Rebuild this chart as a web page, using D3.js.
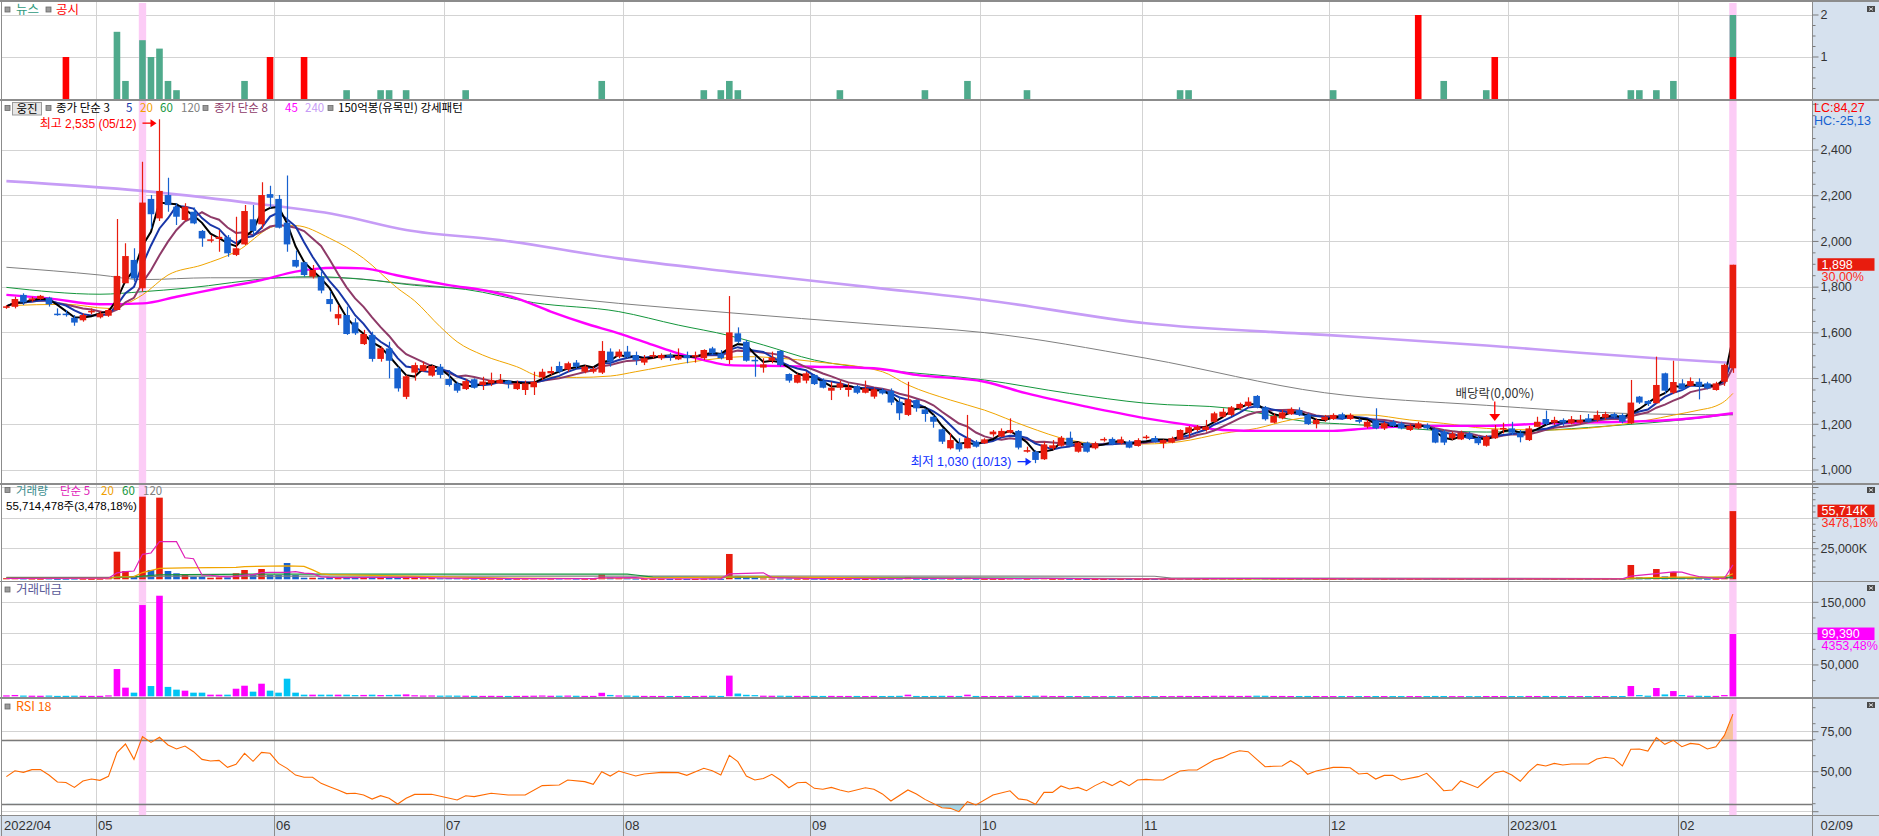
<!DOCTYPE html>
<html><head><meta charset="utf-8">
<script src="https://cdn.jsdelivr.net/npm/d3@7/dist/d3.min.js"></script>
<style>
html,body{margin:0;padding:0;background:#fff;overflow:hidden;}
svg{display:block;font-family:"Noto Sans CJK KR","Noto Sans",sans-serif;}
.num{font-family:"Liberation Sans","DejaVu Sans",sans-serif;}
</style></head><body>
<svg id="c" width="1879" height="836"></svg>
<script>
// ---------------- data ----------------
const firstLabel = "2022/04";
const monthStart = [11,32,52,73,95,115,134,156,177,197];
const monthLabel = ["05","06","07","08","09","10","11","12","2023/01","02"];
const lastDateLabel = "02/09";

const open = [1710,1714,1766,1742,1748,1754,1684,1684,1666,1655,1692,1668,1675,1700,1817,1919,1795,2186,2101,2203,
2152,2094,2130,2046,2005,2011,2018,1941,1987,2097,2075,2207,2186,2082,1919,1909,1846,1846,1748,1663,
1678,1646,1551,1591,1486,1532,1445,1320,1426,1433,1413,1452,1398,1379,1354,1397,1372,1379,1379,1391,
1354,1350,1362,1405,1423,1455,1440,1470,1430,1430,1426,1518,1496,1518,1503,1470,1496,1489,1503,1484,
1503,1496,1489,1532,1510,1481,1598,1561,1482,1448,1478,1521,1420,1382,1391,1416,1391,1347,1360,1350,
1367,1338,1321,1350,1347,1299,1241,1306,1265,1233,1178,1095,1117,1095,1124,1117,1156,1146,1163,1171,
1080,1080,1047,1095,1106,1141,1080,1120,1095,1131,1136,1117,1124,1105,1141,1140,1117,1120,1134,1163,
1175,1175,1211,1233,1241,1270,1280,1324,1274,1207,1226,1244,1262,1241,1201,1219,1223,1244,1223,1219,
1189,1216,1182,1211,1204,1175,1182,1197,1178,1168,1139,1134,1160,1141,1106,1139,1178,1182,1163,1131,
1189,1223,1207,1219,1204,1207,1226,1219,1229,1245,1241,1204,1321,1302,1292,1423,1338,1379,1368,1386,
1379,1350,1386,1445];
const high = [1722,1758,1773,1758,1766,1758,1707,1700,1678,1685,1707,1695,1707,2098,1992,1970,2349,2203,2535,2279,
2167,2167,2148,2050,2028,2050,2028,2108,2159,2159,2259,2244,2203,2288,1960,1911,1897,1868,1783,1722,
1715,1664,1613,1605,1540,1561,1452,1416,1470,1474,1459,1464,1437,1386,1397,1401,1408,1426,1420,1394,
1391,1391,1430,1443,1452,1474,1474,1481,1459,1452,1564,1532,1528,1543,1518,1503,1518,1510,1513,1532,
1518,1518,1528,1539,1525,1761,1624,1569,1496,1489,1518,1525,1423,1423,1430,1420,1401,1386,1391,1379,
1372,1391,1360,1358,1357,1321,1386,1309,1270,1241,1182,1160,1139,1241,1131,1139,1175,1182,1226,1175,
1102,1087,1124,1131,1149,1168,1124,1124,1124,1143,1143,1146,1131,1139,1153,1149,1134,1146,1178,1193,
1197,1219,1255,1270,1280,1295,1318,1328,1280,1248,1262,1274,1274,1248,1226,1241,1248,1251,1248,1226,
1219,1270,1211,1219,1211,1201,1211,1204,1182,1175,1168,1172,1168,1149,1153,1197,1207,1211,1175,1193,
1233,1260,1233,1226,1236,1241,1245,1260,1255,1251,1248,1394,1324,1306,1496,1426,1478,1397,1405,1401,
1386,1386,1465,1898];
const low = [1705,1707,1722,1736,1745,1715,1675,1671,1631,1649,1681,1663,1670,1700,1817,1824,1780,2057,2089,2130,
2072,2089,2075,1977,1995,1955,1933,1936,1984,2028,2057,2145,2057,1955,1885,1846,1838,1773,1693,1634,
1591,1591,1547,1474,1474,1401,1343,1310,1391,1430,1408,1401,1365,1338,1350,1356,1350,1367,1379,1357,
1350,1328,1328,1394,1416,1423,1430,1445,1423,1423,1420,1452,1489,1489,1459,1459,1489,1481,1478,1481,
1467,1470,1481,1503,1484,1464,1554,1474,1408,1426,1467,1452,1382,1379,1379,1372,1357,1306,1350,1321,
1332,1335,1312,1330,1284,1219,1236,1255,1211,1185,1114,1090,1080,1095,1098,1114,1146,1143,1160,1090,
1076,1030,1044,1087,1102,1102,1076,1076,1090,1124,1109,1112,1095,1102,1134,1120,1095,1117,1131,1139,
1168,1168,1207,1229,1236,1262,1274,1270,1216,1204,1222,1241,1236,1197,1182,1211,1219,1219,1219,1204,
1182,1178,1175,1187,1178,1171,1178,1175,1117,1109,1131,1131,1131,1109,1102,1136,1160,1153,1121,1127,
1189,1197,1197,1193,1200,1201,1207,1211,1219,1226,1204,1201,1289,1280,1292,1332,1332,1347,1365,1309,
1353,1347,1368,1425];
const close = [1716,1748,1733,1751,1762,1725,1680,1680,1645,1678,1696,1685,1700,1849,1936,1838,2170,2119,2221,2159,
2108,2152,2079,2013,2009,2020,1948,1970,2133,2046,2203,2191,2060,1987,1890,1853,1875,1785,1726,1682,
1595,1598,1595,1486,1532,1478,1357,1410,1459,1459,1455,1416,1372,1347,1389,1360,1387,1394,1394,1376,
1379,1379,1386,1430,1433,1430,1467,1452,1452,1442,1521,1474,1518,1493,1481,1489,1503,1503,1496,1499,
1489,1503,1525,1510,1489,1602,1561,1478,1479,1462,1492,1459,1391,1416,1423,1376,1360,1360,1379,1362,
1338,1357,1353,1335,1295,1248,1309,1270,1245,1211,1124,1131,1090,1139,1102,1134,1168,1171,1175,1098,
1087,1044,1112,1108,1141,1106,1120,1080,1117,1136,1112,1134,1098,1131,1146,1124,1131,1139,1175,1187,
1190,1190,1248,1255,1274,1289,1299,1274,1222,1236,1252,1267,1241,1201,1219,1233,1241,1226,1241,1211,
1211,1182,1204,1193,1182,1193,1204,1182,1120,1120,1160,1163,1139,1117,1146,1178,1184,1163,1143,1182,
1211,1201,1219,1207,1222,1219,1211,1241,1245,1233,1211,1295,1295,1289,1372,1347,1385,1353,1389,1365,
1357,1379,1460,1898];

// volume (thousand shares)
const volume = [900,1200,700,600,500,700,400,500,600,500,400,500,900,22550,6780,2700,67500,7600,66700,6780,
4900,4080,2100,2100,1300,1600,1600,4900,7600,3500,8400,3500,3500,13300,3500,1300,1300,1300,1800,1000,
1500,1200,1400,1800,1300,1500,1900,2300,1200,900,1000,800,900,800,700,600,500,600,500,400,
500,600,700,900,600,700,800,600,500,500,3800,1500,900,800,600,500,400,400,300,400,
300,300,500,600,400,20700,2800,1600,1300,700,600,700,600,500,500,500,400,500,400,400,
400,300,500,400,500,600,1500,500,400,500,700,600,500,1200,500,400,400,400,700,800,
500,900,800,400,500,400,400,300,300,300,300,300,300,300,300,300,400,300,600,500,
400,400,700,600,600,500,600,800,700,500,500,400,400,500,400,300,300,300,300,300,
300,400,300,300,300,300,300,300,500,400,300,300,300,300,400,400,300,300,300,500,
400,500,300,300,300,300,300,400,300,300,400,11700,1700,800,8400,2400,6000,1700,800,700,
500,500,1500,55714];
// trading value (million KRW)
const tradeValue = [1500,2100,1200,1000,900,1200,700,800,1000,800,700,800,1500,43500,13800,5800,145600,16400,160500,15000,
10600,9000,5800,5800,2600,2600,2600,12100,16900,7400,20100,9000,5800,28100,5800,2600,2600,2600,2600,2600,
2600,2000,2200,2600,2000,2200,2600,3100,1700,1300,1400,1100,1200,1100,1000,800,700,800,700,600,
700,800,1000,1300,900,1000,1200,900,700,700,5600,2200,1400,1200,900,700,600,600,500,600,
500,500,800,900,600,33000,4400,2400,1900,1000,900,1000,800,700,700,700,600,700,600,600,
600,400,700,500,600,800,2600,600,500,600,800,700,600,2600,600,500,500,500,800,900,
500,1000,900,400,600,400,400,300,300,300,300,300,300,300,300,300,500,300,700,600,
500,500,900,800,800,600,800,1000,900,600,600,500,500,600,500,400,400,400,400,400,
400,500,400,400,400,400,400,400,600,500,300,300,300,300,500,500,400,400,300,600,
500,600,400,400,400,400,400,500,400,400,500,16400,2000,1000,13200,3000,8400,2000,1000,900,
700,700,2000,99390];

// news (green) and disclosure (red) bars, [bar index, height in axis units]
const newsBars = [[13,1.6],[14,0.43],[16,1.4],[17,1.0],[18,1.2],[19,0.43],[20,0.21],[28,0.43],[40,0.21],[44,0.21],
[45,0.21],[47,0.21],[54,0.21],[70,0.43],[82,0.21],[84,0.21],[85,0.43],[86,0.21],[98,0.21],[108,0.21],[113,0.43],
[120,0.21],[138,0.21],[139,0.21],[156,0.21],[169,0.43],[174,0.21],[191,0.21],[192,0.21],[194,0.21],[196,0.43],[203,1.0]];
const disclosureBars = [[7,1],[31,1],[35,1],[166,2],[175,1],[203,1]];

// long moving averages: [bar index, price]
const ma20 = [[0,1719],[7,1725],[12,1707],[16,1766],[19,1853],[23,1897],[27,1955],[32,2069],[34,2069],[38,2014],[42,1926],
[46,1795],[48,1740],[51,1627],[53,1561],[56,1503],[60,1452],[63,1408],[67,1405],[71,1411],[74,1430],[80,1470],[84,1489],
[87,1496],[91,1489],[95,1474],[103,1430],[106,1372],[111,1306],[115,1262],[120,1190],[125,1131],[129,1114],[134,1114],
[138,1124],[143,1160],[147,1182],[151,1219],[155,1236],[160,1241],[165,1219],[169,1204],[174,1182],[181,1175],[186,1183],
[190,1200],[193,1218],[196,1240],[199,1262],[201,1280],[202,1300],[203,1335]];
const ma45 = [[0,1766],[5,1751],[11,1725],[16,1729],[20,1758],[25,1795],[30,1831],[34,1868],[36,1879],[39,1885],[42,1882],
[46,1851],[52,1809],[57,1780],[60,1751],[64,1693],[68,1642],[72,1598],[76,1547],[79,1510],[82,1481],[85,1459],[89,1456],
[95,1452],[102,1445],[107,1416],[115,1386],[120,1335],[127,1277],[134,1226],[139,1197],[143,1175],[148,1171],[156,1171],
[160,1182],[167,1193],[174,1193],[181,1204],[190,1211],[197,1222],[203,1248]];
const ma60 = [[0,1799],[11,1769],[16,1780],[21,1795],[32,1841],[36,1846],[42,1834],[48,1808],[54,1790],[62,1732],[72,1693],
[79,1634],[85,1588],[89,1547],[95,1481],[102,1443],[115,1394],[125,1335],[134,1292],[144,1270],[153,1211],[158,1200],
[174,1166],[190,1197],[197,1219],[203,1245]];
const ma120 = [[0,1887],[11,1853],[16,1833],[24,1841],[39,1841],[47,1815],[58,1780],[72,1729],[85,1688],[102,1638],
[115,1601],[134,1489],[155,1338],[174,1283],[190,1248],[203,1241]];
const ma240 = [[0,2264],[16,2221],[28,2171],[39,2116],[47,2050],[58,2006],[72,1926],[85,1868],[102,1798],[115,1744],
[134,1642],[155,1591],[174,1545],[185,1513],[194,1489],[203,1468]];

// volume moving averages: [bar index, thousand shares]
const volMa5 = [[0,700],[12,900],[13,5200],[14,6300],[15,6800],[16,20400],[17,21500],[18,30700],[20,30700],[21,17600],
[22,16800],[23,3500],[24,3300],[25,2400],[26,2000],[27,2300],[28,3400],[29,3800],[30,5400],[31,5600],[32,5600],[33,5700],
[34,6300],[35,5000],[36,4600],[37,2000],[38,1500],[40,1400],[45,1500],[48,1600],[52,900],[60,550],[69,550],[70,1200],
[74,1300],[75,500],[84,400],[85,4500],[89,5300],[90,1400],[95,600],[105,500],[106,750],[110,750],[113,800],[118,600],
[122,700],[126,500],[130,300],[138,400],[142,550],[147,650],[150,550],[160,320],[168,350],[174,350],[180,400],[190,350],
[191,2600],[194,4600],[196,6100],[197,5800],[198,3800],[199,2300],[201,800],[202,900],[203,11800]];
const volMa20 = [[0,800],[12,800],[13,1900],[15,2200],[16,5500],[18,8900],[21,9400],[27,9700],[28,10400],[33,10900],
[35,10600],[36,7700],[37,4400],[38,3900],[40,3600],[53,1700],[60,900],[69,650],[70,850],[85,1800],[88,2100],[104,900],
[106,800],[120,650],[140,450],[160,380],[190,350],[191,900],[196,1700],[202,1800],[203,4500]];
const volMa60 = [[0,1100],[12,1100],[13,1500],[16,2600],[18,3700],[21,3900],[33,4300],[73,4300],[74,3500],[76,1800],
[84,1300],[85,1600],[89,1700],[93,1400],[133,600],[145,450],[190,400],[191,600],[196,900],[203,1700]];
const volMa120 = [[0,1500],[12,1500],[16,2000],[18,2600],[40,2600],[135,2500],[137,1000],[190,650],[196,800],[203,1200]];

// RSI 18: [bar index, value]
const rsi18 = [[0,46.9],[1,50.6],[2,49.6],[3,51.3],[4,51.3],[5,47.9],[6,43.6],[7,43.3],[8,40.2],[9,44.2],[10,45.4],[11,44.6],
[12,47.1],[13,61.9],[14,67.3],[15,57.7],[16,71.9],[17,68.3],[18,71.5],[19,66.7],[20,64.2],[21,66.0],[22,62.5],[23,57.7],
[24,56.7],[25,57.1],[26,52.7],[27,54.6],[28,61.5],[29,56.5],[30,62.1],[31,61.5],[32,55.2],[33,52.1],[34,47.9],[35,46.5],
[36,46.5],[37,42.7],[38,40.6],[39,38.5],[40,36.3],[41,36.5],[42,35.4],[43,32.9],[44,35.0],[45,33.4],[46,29.8],[47,33.4],
[48,35.8],[50,35.9],[53,32.3],[54,35.0],[55,34.4],[57,36.5],[59,35.4],[61,35.4],[63,41.3],[65,41.7],[66,44.8],[68,43.8],
[69,42.1],[70,50.0],[71,47.3],[72,50.4],[74,47.3],[75,48.6],[77,49.6],[79,49.4],[80,47.7],[82,52.1],[83,50.6],[84,47.9],
[85,60.2],[86,56.3],[87,47.3],[88,44.8],[89,45.8],[90,48.4],[91,44.8],[92,40.0],[93,43.1],[94,43.4],[95,39.6],[96,39.0],
[97,40.2],[98,38.6],[99,37.3],[101,40.0],[102,39.0],[103,36.1],[104,31.7],[106,38.6],[107,36.1],[108,32.7],[110,27.5],
[111,27.1],[112,25.0],[113,31.3],[114,29.2],[116,35.4],[118,38.1],[119,33.0],[120,32.3],[121,29.6],[122,37.1],[123,37.1],
[124,41.1],[125,39.2],[126,40.2],[127,38.1],[128,41.3],[129,43.8],[130,41.3],[131,44.2],[132,41.3],[133,44.8],[134,45.2],
[135,44.8],[136,44.8],[138,50.4],[139,51.1],[140,51.1],[142,57.3],[143,58.8],[144,61.5],[145,63.1],[146,62.5],[148,53.1],
[149,53.4],[150,53.6],[151,56.9],[152,53.6],[153,48.4],[154,50.4],[156,52.7],[157,52.7],[158,52.5],[159,48.6],[160,49.0],
[161,45.4],[162,47.7],[163,47.7],[164,44.8],[166,46.9],[167,49.0],[168,43.8],[169,38.1],[170,38.6],[171,44.2],[173,40.0],
[174,44.8],[175,49.4],[176,50.4],[177,47.9],[178,44.0],[179,50.0],[180,54.6],[181,53.6],[182,55.2],[183,54.2],[184,54.8],
[185,54.8],[186,54.8],[187,57.9],[188,59.0],[189,58.3],[190,53.6],[191,64.0],[192,64.2],[193,62.9],[194,71.3],[195,67.1],
[196,69.6],[197,65.6],[198,67.7],[199,67.1],[200,64.2],[201,65.6],[202,72.7],[203,86.0]];

const highlightBars = [16, 203];
const priceTicks = [1000,1200,1400,1600,1800,2000,2200,2400];

// ---------------- drawing ----------------
const svg = d3.select("#c");
const RX = 1812.5;
const AXBG = "#d6e1ee";
const RED = "#e81c0e", BLUE = "#1761cf";
const MIXF = "'Liberation Sans','Noto Sans CJK KR',sans-serif";
const x = d3.scaleLinear().domain([-0.5, 212.3]).range([2.14, 1812]);
const bw = 6.6;
const P = {news:[2,100], price:[100,484], vol:[484,581.5], money:[581.5,698], rsi:[698,815]};
const yNews = d3.scaleLinear().domain([0,2]).range([99,15]);
const yPrice = d3.scaleLinear().domain([1000,2400]).range([470,150]);
const yVol = d3.scaleLinear().domain([0,25000]).range([579.3,548.7]);
const yMoney = d3.scaleLinear().domain([0,150000]).range([696.3,602.3]);
const yRsi = d3.scaleLinear().domain([50,75]).range([771.7,731.7]);
const idx = d3.range(close.length);

svg.append("rect").attr("width",1879).attr("height",836).attr("fill","#fff");
svg.append("rect").attr("x",RX).attr("y",0).attr("width",1879-RX).attr("height",836).attr("fill",AXBG);
svg.append("rect").attr("x",0).attr("y",815.5).attr("width",1879).attr("height",21).attr("fill",AXBG);

const defs = svg.append("defs");
Object.entries(P).forEach(([k,[t,b]])=>{
  defs.append("clipPath").attr("id","cl-"+k).append("rect").attr("x",2).attr("y",t+1).attr("width",RX-2).attr("height",b-t-1);
});
defs.append("clipPath").attr("id","cl-ob").append("rect").attr("x",2).attr("y",P.rsi[0]).attr("width",RX-2).attr("height",yRsi(70)-P.rsi[0]);
defs.append("clipPath").attr("id","cl-os").append("rect").attr("x",2).attr("y",yRsi(30)).attr("width",RX-2).attr("height",P.rsi[1]-yRsi(30));

const grid = svg.append("g").attr("stroke","#d3d3d3").attr("stroke-width",1).attr("shape-rendering","crispEdges");
function hgrid(ys){ ys.forEach(y=>grid.append("line").attr("x1",2).attr("x2",RX).attr("y1",y).attr("y2",y)); }
hgrid([yNews(1), yNews(2)]);
hgrid(priceTicks.map(yPrice));
hgrid([yVol(25000), yVol(50000), yVol(75000)]);
hgrid([yMoney(50000), yMoney(100000), yMoney(150000)]);
hgrid([yRsi(25), yRsi(50), yRsi(75)]);
monthStart.forEach(m=>{
  const xx = Math.round(x(m-0.5))+0.5;
  grid.append("line").attr("x1",xx).attr("x2",xx).attr("y1",2).attr("y2",815);
});

highlightBars.forEach(i=>{
  svg.append("rect").attr("x",x(i)-3.7).attr("y",3).attr("width",7.4).attr("height",812).attr("fill","#fcccf6");
});

// ---------- news panel ----------
const gN = svg.append("g").attr("clip-path","url(#cl-news)");
const discMap = new Map(disclosureBars);
disclosureBars.forEach(([i,v])=>{
  gN.append("rect").attr("x",x(i)-bw/2).attr("width",bw).attr("y",yNews(v)).attr("height",yNews(0)-yNews(v)).attr("fill","#ff0000");
});
newsBars.forEach(([i,v])=>{
  const base = discMap.get(i)||0;
  gN.append("rect").attr("x",x(i)-bw/2).attr("width",bw).attr("y",yNews(base+v)).attr("height",yNews(base)-yNews(base+v)).attr("fill","#4faa8c");
});

// ---------- price panel ----------
const gP = svg.append("g").attr("clip-path","url(#cl-price)");
function sma(arr,n){ return arr.map((_,i)=>d3.mean(arr.slice(Math.max(0,i-n+1), i+1))); }
const ma3 = sma(close,3), ma5 = sma(close,5), ma8 = sma(close,8);
const kline = d3.line().curve(d3.curveMonotoneX).x(d=>x(d[0])).y(d=>yPrice(d[1]));
const cline = arr => d3.line().x((d,i)=>x(i)).y(d=>yPrice(d))(arr);
function pathK(g, data, color, w){ g.append("path").attr("d",kline(data)).attr("fill","none").attr("stroke",color).attr("stroke-width",w).attr("stroke-linejoin","round"); }
pathK(gP, ma240, "#c69cf6", 2.6);
pathK(gP, ma120, "#808080", 1);
pathK(gP, ma60, "#14963c", 1);
pathK(gP, ma20, "#f0a500", 1);
pathK(gP, ma45, "#ff00ff", 2.4);
gP.append("path").attr("d",cline(ma8)).attr("fill","none").attr("stroke","#8e3a68").attr("stroke-width",2);
gP.append("path").attr("d",cline(ma5)).attr("fill","none").attr("stroke","#1836a8").attr("stroke-width",2);
gP.append("path").attr("d",cline(ma3)).attr("fill","none").attr("stroke","#000").attr("stroke-width",2);

idx.forEach(i=>{
  const up = close[i] >= open[i];
  const col = up ? RED : BLUE;
  const cx = Math.round(x(i))+0.5;
  gP.append("line").attr("x1",cx).attr("x2",cx).attr("y1",yPrice(high[i])).attr("y2",yPrice(low[i])).attr("stroke",col).attr("stroke-width",1.2);
  const yt = yPrice(Math.max(open[i],close[i])), yb = yPrice(Math.min(open[i],close[i]));
  gP.append("rect").attr("x",x(i)-bw/2).attr("width",bw).attr("y",yt).attr("height",Math.max(1.5,yb-yt)).attr("fill",col);
});

// annotations
const hiI = d3.maxIndex(high), loI = d3.minIndex(low);
function arrowR(g, x2, y, color){
  g.append("line").attr("x1",x2-14).attr("x2",x2-4).attr("y1",y).attr("y2",y).attr("stroke",color).attr("stroke-width",1.3);
  g.append("path").attr("d",`M${x2},${y} L${x2-6},${y-4} L${x2-6},${y+4} Z`).attr("fill",color);
}
arrowR(svg, x(hiI)-3, yPrice(high[hiI])+4, "#ff0000");
svg.append("text").attr("x",x(hiI)-23).attr("y",yPrice(high[hiI])+9).attr("text-anchor","end").attr("font-family",MIXF)
  .attr("font-size",12).attr("fill","#ff0000").text("최고 2,535 (05/12)");
arrowR(svg, x(loI)-4, yPrice(low[loI])-1.5, "#1030ff");
svg.append("text").attr("x",x(loI)-24).attr("y",yPrice(low[loI])+3).attr("text-anchor","end").attr("font-family",MIXF)
  .attr("font-size",12.5).attr("fill","#1030ff").text("최저 1,030 (10/13)");
const exI = 175;
svg.append("line").attr("x1",x(exI)).attr("x2",x(exI)).attr("y1",401.5).attr("y2",416).attr("stroke","#ff0000").attr("stroke-width",1.3);
svg.append("path").attr("d",`M${x(exI)-5.5},${414} L${x(exI)+5.5},${414} L${x(exI)},${421} Z`).attr("fill","#ff0000");
svg.append("text").attr("x",x(exI)).attr("y",398).attr("text-anchor","middle").attr("font-size",12.5).attr("fill","#333").text("배당락(0,00%)");

// ---------- volume panel ----------
const gV = svg.append("g").attr("clip-path","url(#cl-vol)");
idx.forEach(i=>{
  const col = close[i] >= open[i] ? RED : BLUE;
  gV.append("rect").attr("x",x(i)-bw/2).attr("width",bw).attr("y",yVol(volume[i])).attr("height",Math.max(1,yVol(0)-yVol(volume[i]))).attr("fill",col);
});
const vline = d3.line().x(d=>x(d[0])).y(d=>yVol(d[1]));
[[volMa120,"#808080"],[volMa60,"#14963c"],[volMa20,"#f0a500"],[volMa5,"#e020b8"]].forEach(([d,c])=>{
  gV.append("path").attr("d",vline(d)).attr("fill","none").attr("stroke",c).attr("stroke-width",1.2);
});

// ---------- trading value panel ----------
const gM = svg.append("g").attr("clip-path","url(#cl-money)");
idx.forEach(i=>{
  const col = close[i] >= open[i] ? "#ff00ff" : "#00c4f4";
  gM.append("rect").attr("x",x(i)-bw/2).attr("width",bw).attr("y",yMoney(tradeValue[i])).attr("height",Math.max(1.2,yMoney(0)-yMoney(tradeValue[i]))).attr("fill",col);
});

// ---------- RSI panel ----------
const gR = svg.append("g").attr("clip-path","url(#cl-rsi)");
gR.append("path").attr("clip-path","url(#cl-ob)")
  .attr("d", d3.area().x(d=>x(d[0])).y0(yRsi(70)).y1(d=>yRsi(d[1]))(rsi18)).attr("fill","#f7c29a");
gR.append("path").attr("clip-path","url(#cl-os)")
  .attr("d", d3.area().x(d=>x(d[0])).y0(yRsi(30)).y1(d=>yRsi(d[1]))(rsi18)).attr("fill","#a9d6e6");
[70,30].forEach(v=>gR.append("line").attr("x1",2).attr("x2",RX).attr("y1",Math.round(yRsi(v))+0.5).attr("y2",Math.round(yRsi(v))+0.5)
  .attr("stroke","#7a7a7a").attr("stroke-width",1.3));
gR.append("path").attr("d", d3.line().x(d=>x(d[0])).y(d=>yRsi(d[1]))(rsi18)).attr("fill","none").attr("stroke","#ff6a00").attr("stroke-width",1.1);

// ---------- borders ----------
const bd = svg.append("g").attr("stroke","#8c8c8c").attr("stroke-width",1.5).attr("shape-rendering","crispEdges");
[1, P.price[0], P.vol[0], P.money[0], P.rsi[0], 815.5].forEach(y=>bd.append("line").attr("x1",0).attr("x2",1879).attr("y1",y).attr("y2",y));
bd.append("line").attr("x1",1.5).attr("x2",1.5).attr("y1",0).attr("y2",836);
bd.append("line").attr("x1",RX).attr("x2",RX).attr("y1",0).attr("y2",836);
monthStart.forEach(m=>{ const xx=Math.round(x(m-0.5))+0.5; bd.append("line").attr("x1",xx).attr("x2",xx).attr("y1",815.5).attr("y2",836); });

// ---------- right axis ----------
const ax = svg.append("g").attr("class","num");
function tick(y,len){ ax.append("line").attr("x1",RX).attr("x2",RX+len).attr("y1",y).attr("y2",y).attr("stroke","#7a7a7a").attr("stroke-width",1); }
function label(y,t,col){ ax.append("text").attr("x",RX+8).attr("y",y+4.3).attr("font-size",12.5).attr("fill",col||"#333").text(t); }
[0.25,0.5,0.75,1.25,1.5,1.75].forEach(v=>tick(yNews(v),3));
[1,2].forEach(v=>{tick(yNews(v),6); label(yNews(v), String(v));});
d3.range(950,2650,50).forEach(v=>{ if(yPrice(v)>104 && yPrice(v)<482) tick(yPrice(v), v%200===0?6:3); });
priceTicks.forEach(v=>label(yPrice(v), d3.format(",")(v)));
ax.append("text").attr("x",RX+1.5).attr("y",112).attr("font-size",12.5).attr("fill","#ff0000").text("LC:84,27");
ax.append("text").attr("x",RX+1.5).attr("y",124.5).attr("font-size",12.5).attr("fill","#1560d0").text("HC:-25,13");
ax.append("rect").attr("x",RX+5).attr("y",yPrice(close[203])-6.5).attr("width",57).attr("height",12.5).attr("fill",RED);
ax.append("text").attr("x",RX+9).attr("y",yPrice(close[203])+4.3).attr("font-size",12.5).attr("fill","#fff").text(d3.format(",")(close[203]));
ax.append("text").attr("x",RX+9).attr("y",yPrice(close[203])+16).attr("font-size",12.5).attr("fill","#ff2a1a").text("30,00%");
d3.range(5000,80000,5000).forEach(v=>{ if(yVol(v)>486) tick(yVol(v), v%25000===0?6:3); });
label(yVol(25000), "25,000K");
ax.append("rect").attr("x",RX+5).attr("y",yVol(volume[203])-6.5).attr("width",57).attr("height",12.5).attr("fill",RED);
ax.append("text").attr("x",RX+9).attr("y",yVol(volume[203])+4.3).attr("font-size",12.5).attr("fill","#fff").text(d3.format(",")(volume[203])+"K");
ax.append("text").attr("x",RX+9).attr("y",yVol(volume[203])+16).attr("font-size",12.5).attr("fill","#ff2a1a").text("3478,18%");
d3.range(25000,175000,25000).forEach(v=>{ if(yMoney(v)>583) tick(yMoney(v), v%50000===0?6:3); });
label(yMoney(150000), "150,000"); label(yMoney(50000), "50,000");
ax.append("rect").attr("x",RX+5).attr("y",yMoney(tradeValue[203])-6.5).attr("width",57).attr("height",12.5).attr("fill","#ff00ff");
ax.append("text").attr("x",RX+9).attr("y",yMoney(tradeValue[203])+4.3).attr("font-size",12.5).attr("fill","#fff").text(d3.format(",")(tradeValue[203]));
ax.append("text").attr("x",RX+9).attr("y",yMoney(tradeValue[203])+16).attr("font-size",12.5).attr("fill","#ff00ff").text("4353,48%");
[30,40,60,70,80,90].forEach(v=>tick(yRsi(v),3));
[25,50,75].forEach(v=>tick(yRsi(v),6));
label(yRsi(75), "75,00"); label(yRsi(50), "50,00");
[6,487,585,702].forEach(y=>{
  ax.append("rect").attr("x",1867).attr("y",y).attr("width",8).attr("height",6).attr("fill","#4a4a4a");
  ax.append("path").attr("d",`M1869,${y+1.5} L1873,${y+4.5} M1873,${y+1.5} L1869,${y+4.5}`).attr("stroke","#fff").attr("stroke-width",0.8);
});

// ---------- date axis ----------
const dx = svg.append("g").attr("class","num").attr("font-size",13).attr("fill","#333");
dx.append("text").attr("x",4).attr("y",830).text(firstLabel);
monthStart.forEach((m,k)=>dx.append("text").attr("x",Math.round(x(m-0.5))+2).attr("y",830).text(monthLabel[k]));
dx.append("text").attr("x",RX+8).attr("y",830).text(lastDateLabel);

// ---------- legends ----------
function box(xx,yy){ svg.append("rect").attr("x",xx).attr("y",yy-3).attr("width",5).attr("height",5).attr("fill","#9a9a9a").attr("stroke","#6a6a6a").attr("stroke-width",0.8); }
function row(yy, items, fs, fam){
  let end = 0;
  items.forEach(([rx,t,c])=>{
    const xx = Math.max(rx, end + 3);
    const el = svg.append("text").attr("x",xx).attr("y",yy+4.2).attr("font-size",fs).attr("fill",c).text(t);
    if(fam) el.attr("font-family",fam);
    end = xx + el.node().getComputedTextLength();
  });
}
box(5,10); row(10, [[16,"뉴스","#2f9a7c"]], 12.5); box(46,10); row(10, [[56,"공시","#ff0000"]], 12.5);
box(5,108.5);
svg.append("rect").attr("x",12.5).attr("y",102.5).attr("width",29).attr("height",12.5).attr("fill","#e6e6e6").attr("stroke","#9c9c9c");
svg.append("text").attr("x",27).attr("y",112.6).attr("text-anchor","middle").attr("font-size",11.5).attr("fill","#000").text("웅진");
box(46,108.5);
row(108, [[56,"종가 단순 3","#000"],[126,"5","#1836a8"],[140,"20","#f0a000"],[160,"60","#14963c"],[181,"120","#808080"]], 11.5);
box(203,108.5);
row(108, [[214,"종가 단순 8","#8e3a68"],[285,"45","#ff00ff"],[305,"240","#c69cf6"]], 11.5);
box(328,108.5);
row(108, [[338,"150억봉(유목민) 강세패턴","#000"]], 11.5);
box(5,490.5);
row(490.5, [[16,"거래량","#3a8c8c"],[60,"단순 5","#e020b8"],[101,"20","#f0a000"],[122,"60","#14963c"],[143,"120","#808080"]], 11.5);
row(505.5, [[6,"55,714,478주(3,478,18%)","#000"]], 11.5, MIXF);
box(5,590); row(590, [[16,"거래대금","#5a5a98"]], 12.5);
box(5,707); row(707, [[16,"RSI 18","#ff6a00"]], 12.5);
</script>
</body></html>
